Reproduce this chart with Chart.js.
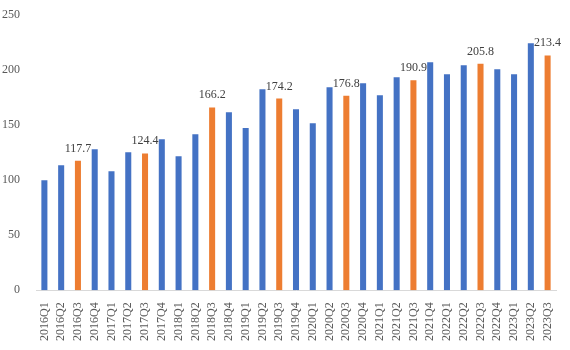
<!DOCTYPE html>
<html>
<head>
<meta charset="utf-8">
<script src="https://cdn.jsdelivr.net/npm/chart.js@4/dist/chart.umd.min.js"></script>
<style>
  html, body { margin: 0; padding: 0; background: #fff; }
  #wrap { width: 570px; height: 350px; position: relative; }
</style>
</head>
<body>
<div id="wrap"><canvas id="barChart"></canvas></div>
<script>
// quarters on the x axis
const quarters = [
    '2016Q1', '2016Q2', '2016Q3', '2016Q4',
    '2017Q1', '2017Q2', '2017Q3', '2017Q4',
    '2018Q1', '2018Q2', '2018Q3', '2018Q4',
    '2019Q1', '2019Q2', '2019Q3', '2019Q4',
    '2020Q1', '2020Q2', '2020Q3', '2020Q4',
    '2021Q1', '2021Q2', '2021Q3', '2021Q4',
    '2022Q1', '2022Q2', '2022Q3', '2022Q4',
    '2023Q1', '2023Q2', '2023Q3'
];

// values (Q3 values are labelled)
const values = [
    100.0, 113.6, 117.7, 128.2,
    108.2, 125.5, 124.4, 137.3,
    121.8, 141.8, 166.2, 161.8,
    147.5, 182.7, 174.2, 164.5,
    151.8, 184.5, 176.8, 188.2,
    177.3, 193.6, 190.9, 207.3,
    196.4, 204.5, 205.8, 200.9,
    196.4, 224.5, 213.4
];

const yTicks = [0, 50, 100, 150, 200, 250];

const BLUE = '#4472C4';
const ORANGE = '#ED7D31';

const barColors = quarters.map(q => q.endsWith('Q3') ? ORANGE : BLUE);

// value labels above the Q3 bars
const q3Labels = {
    id: 'q3Labels',
    afterDatasetsDraw(chart) {
        const ctx = chart.ctx;
        const meta = chart.getDatasetMeta(0);
        ctx.save();
        ctx.font = "12px 'Liberation Serif', serif";
        ctx.fillStyle = '#404040';
        ctx.textAlign = 'center';
        ctx.textBaseline = 'alphabetic';
        meta.data.forEach((bar, i) => {
            if (!quarters[i].endsWith('Q3')) return;
            ctx.fillText(values[i].toFixed(1), bar.x, bar.y - 9);
        });
        ctx.restore();
    }
};

const ctxBar = document.getElementById('barChart').getContext('2d');

const barChart = new Chart(ctxBar, {
    type: 'bar',
    data: {
        labels: quarters,
        datasets: [{
            data: values,
            backgroundColor: barColors,
            borderWidth: 0,
            barPercentage: 0.4,
            categoryPercentage: 0.9
        }]
    },
    options: {
        responsive: true,
        maintainAspectRatio: false,
        animation: false,
        layout: { padding: { top: 11, right: 14, left: 0, bottom: 5 } },
        plugins: {
            legend: { display: false },
            tooltip: { enabled: false }
        },
        scales: {
            y: {
                min: 0,
                max: 250,
                afterBuildTicks(axis) {
                    axis.ticks = yTicks.map(v => ({ value: v }));
                },
                afterFit(axis) {
                    axis.width = 36;
                },
                grid: { display: false },
                border: { display: false },
                ticks: {
                    color: '#595959',
                    font: { family: "'Liberation Serif', serif", size: 12 },
                    padding: 8
                }
            },
            x: {
                grid: { display: false },
                border: { display: true, color: '#D9D9D9', width: 1 },
                ticks: {
                    color: '#595959',
                    font: { family: "'Liberation Serif', serif", size: 12 },
                    minRotation: 90,
                    maxRotation: 90,
                    autoSkip: false,
                    padding: 4
                }
            }
        }
    },
    plugins: [q3Labels]
});
</script>
</body>
</html>
